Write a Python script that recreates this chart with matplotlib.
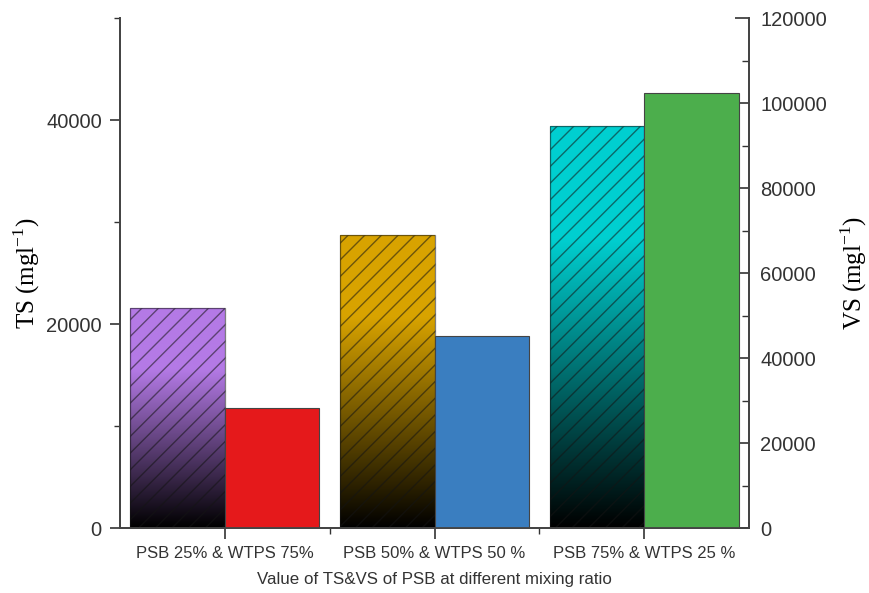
import numpy as np
import matplotlib
matplotlib.use("Agg")
from matplotlib import pyplot as plt
from matplotlib.ticker import MultipleLocator, FixedLocator

categories = ["PSB 25% & WTPS 75%", "PSB 50% & WTPS 50 %", "PSB 75% & WTPS 25 %"]
ts_values = [21600, 28700, 39400]     # left axis, hatched gradient bars
vs_values = [28200, 45200, 102300]    # right axis, solid bars

ts_colors = ["#b47ae6", "#d8a300", "#00cfd0"]
vs_colors = ["#e5191b", "#3a7ec0", "#4cae4c"]

plt.rcParams["hatch.linewidth"] = 1.0
plt.rcParams["mathtext.fontset"] = "custom"
plt.rcParams["mathtext.rm"] = "Liberation Serif"
sans = "Liberation Sans"
serif = "Liberation Serif"
grey = "#333333"

fig = plt.figure(figsize=(8.69, 5.93), dpi=100)
ax = fig.add_axes([0.138, 0.1096, 0.724, 0.86])
ax2 = ax.twinx()

w = 0.45
x = np.arange(len(categories))

# gradient fill: black at the bottom, full colour from ~70% height upward
t = np.linspace(0, 1, 256)
shade = np.clip(t / 0.72, 0, 1)

bars = ax.bar(x - w / 2, ts_values, width=w, fill=False, hatch="//",
              edgecolor=(0.08, 0.08, 0.08, 0.55), linewidth=0.9, zorder=3)
for b, c in zip(bars, ts_colors):
    rgb = np.array(matplotlib.colors.to_rgb(c))
    img = shade[:, None, None] * rgb[None, None, :]
    x0, y0 = b.get_x(), b.get_y()
    im = ax.imshow(img, extent=[x0, x0 + b.get_width(), y0, y0 + b.get_height()],
                   origin="lower", aspect="auto", zorder=2, interpolation="bilinear")
    im.set_clip_path(b)

ax2.bar(x + w / 2, vs_values, width=w, color=vs_colors,
        edgecolor="#444444", linewidth=0.8, zorder=2)

ax.set_xlim(-0.5, 2.5)
ax.set_ylim(0, 50000)
ax2.set_ylim(0, 120000)

ax.set_xticks(x)
ax.set_xticklabels(categories, fontsize=12, family=sans, color=grey)
ax.xaxis.set_minor_locator(FixedLocator([0.5, 1.5]))
ax.tick_params(axis="x", which="major", direction="out", length=8, width=1.2,
               colors=grey, pad=5)
ax.tick_params(axis="x", which="minor", direction="out", length=4, width=1.0, colors=grey)

ax.yaxis.set_major_locator(MultipleLocator(20000))
ax.yaxis.set_minor_locator(MultipleLocator(10000))
ax.tick_params(axis="y", which="major", direction="out", length=7, width=1.2,
               labelsize=14.5, colors=grey, pad=6)
ax.tick_params(axis="y", which="minor", direction="out", length=4, width=1.0, colors=grey)
for lab in ax.get_yticklabels():
    lab.set_family(sans)

ax2.yaxis.set_major_locator(MultipleLocator(20000))
ax2.yaxis.set_minor_locator(MultipleLocator(10000))
ax2.tick_params(axis="y", which="major", direction="in", length=10, width=1.2,
                labelsize=14.5, colors=grey, pad=8)
ax2.tick_params(axis="y", which="minor", direction="in", length=5, width=1.0, colors=grey)
for lab in ax2.get_yticklabels():
    lab.set_family(sans)

for a in (ax, ax2):
    a.spines["top"].set_visible(False)
    for s in ("left", "right", "bottom"):
        a.spines[s].set_color("#444444")
        a.spines[s].set_linewidth(1.3)

ax.set_ylabel(r"TS (mgl$^{\mathregular{-1}}$)", fontsize=18, family=serif, labelpad=3)
ax2.set_ylabel(r"VS (mgl$^{\mathregular{-1}}$)", fontsize=18, family=serif, labelpad=8)
ax.set_xlabel("Value of TS&VS of PSB at different mixing ratio", fontsize=12.2,
              family=sans, color=grey, labelpad=8)

fig.savefig("out.png", dpi=100)
